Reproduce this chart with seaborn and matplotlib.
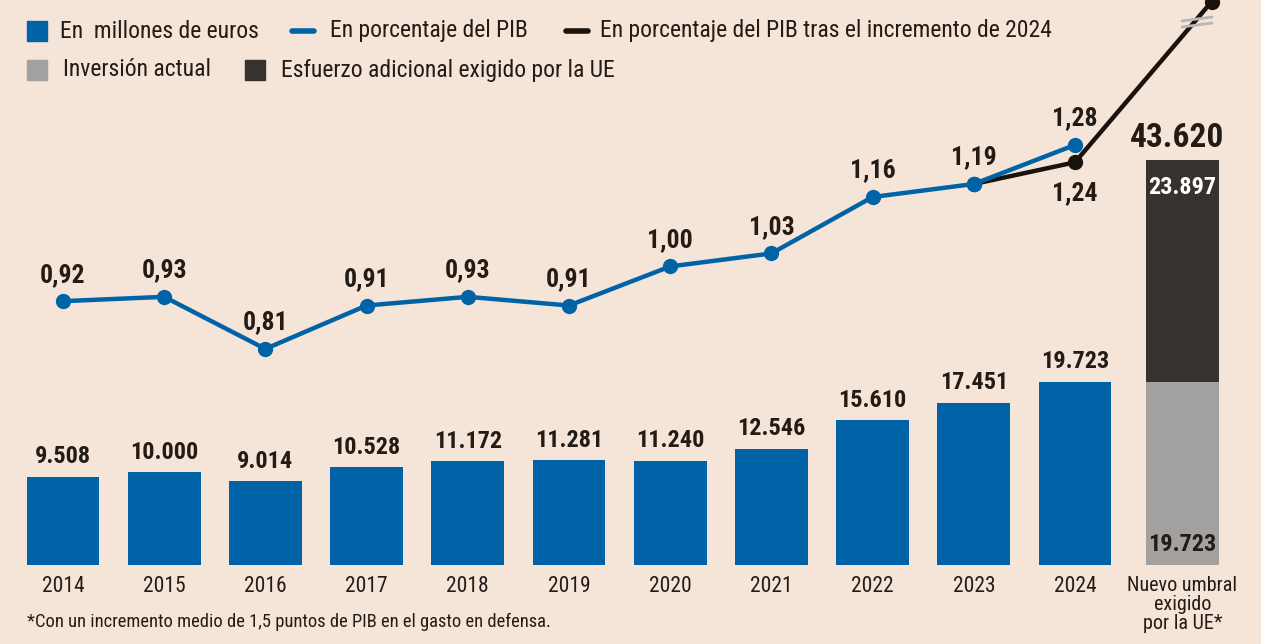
import matplotlib
matplotlib.use("Agg")
import matplotlib.pyplot as plt
import seaborn as sns
from matplotlib.patches import Rectangle
from matplotlib.lines import Line2D

# Data
years = ["2014", "2015", "2016", "2017", "2018", "2019", "2020", "2021", "2022", "2023", "2024"]
millones = [9508, 10000, 9014, 10528, 11172, 11281, 11240, 12546, 15610, 17451, 19723]
pct_pib = [0.92, 0.93, 0.81, 0.91, 0.93, 0.91, 1.00, 1.03, 1.16, 1.19, 1.28]
pct_tras = [1.19, 1.24]          # 2023 -> 2024 tras el incremento
pct_tras_end = 1.61              # punto final (eje cortado)
actual = 19723
esfuerzo = 23897
umbral_total = 43620
umbral_label = "Nuevo umbral\nexigido\npor la UE*"

BG = "#f5e4d8"
BLUE = "#0063a8"
BLACK = "#1a120c"
GRAY = "#a3a19f"
DARK = "#38322e"
TXT = "#231b15"

sns.set_theme(style="white")
plt.rcParams['font.family'] = ['Roboto Condensed', 'DejaVu Sans']

fig = plt.figure(figsize=(12.61, 6.44), dpi=100, facecolor=BG)
ax = fig.add_axes([0, 0, 1, 1])
ax.set_facecolor(BG)

sns.barplot(x=years, y=millones, color=BLUE, width=0.72, saturation=1, linewidth=0, ax=ax)
x_umbral = 11.06
ax.bar(x_umbral, actual, width=0.72, color=GRAY, linewidth=0)
ax.bar(x_umbral, esfuerzo, bottom=actual, width=0.72, color=DARK, linewidth=0)

ax.set_xlim(-0.622, 11.838)
ax.set_ylim(-8513, 60884)
ax.axis("off")

def miles(v):
    return f"{v:,}".replace(",", ".")

# bar labels
for i, v in enumerate(millones):
    ax.annotate(miles(v), (i, v), xytext=(0, 14.5), textcoords="offset points",
                ha="center", va="center", fontsize=17.5, fontweight="bold", color=TXT)
ax.annotate(miles(umbral_total), (x_umbral - 0.05, actual + esfuerzo), xytext=(0, 16),
            textcoords="offset points", ha="center", va="center", fontsize=24, fontweight="bold", color=TXT)
ax.annotate(miles(esfuerzo), (x_umbral, actual + esfuerzo), xytext=(0, -20),
            textcoords="offset points", ha="center", va="center", fontsize=17.5, fontweight="bold", color="white")
ax.annotate(miles(actual), (x_umbral, 0), xytext=(0, 14.5),
            textcoords="offset points", ha="center", va="center", fontsize=17.5, fontweight="bold", color=TXT)

# x labels
for i, y in enumerate(years):
    ax.text(i, 1 - 587 / 644, y, transform=ax.get_xaxis_transform(), ha="center", va="center",
            fontsize=15.5, color=TXT)
ax.text(x_umbral, 1 - 576 / 644, umbral_label, transform=ax.get_xaxis_transform(), ha="center", va="top",
        fontsize=14.5, color=TXT, linespacing=1.0)

# line axis
ax2 = ax.twinx()
ax2.set_position([0, 0, 1, 1])
ax2.set_ylim(0.130, 1.614)
ax2.axis("off")

xs = list(range(len(years)))
sns.lineplot(x=[9, 10, 11.35], y=pct_tras + [pct_tras_end], color=BLACK, linewidth=3.2,
             marker="o", markersize=11, markeredgewidth=0, ax=ax2, zorder=3)
sns.lineplot(x=xs, y=pct_pib, color=BLUE, linewidth=3.2, marker="o", markersize=11,
             markeredgewidth=0, ax=ax2, zorder=4)
ax2.plot([9], [1.19], "o", color=BLUE, markersize=11, markeredgewidth=0, zorder=5)

for i, v in enumerate(pct_pib):
    ax2.annotate(f"{v:.2f}".replace(".", ","), (i, v), xytext=(0, 19), textcoords="offset points",
                 ha="center", va="center", fontsize=18.5, fontweight="bold", color=TXT)
ax2.annotate(f"{pct_tras[1]:.2f}".replace(".", ","), (10, pct_tras[1]), xytext=(0, -22),
             textcoords="offset points", ha="center", va="center", fontsize=18.5, fontweight="bold", color=TXT)

# break marks on black line
for dy in (-3, 3):
    fig.add_artist(Line2D([1182 / 1261, 1212 / 1261], [1 - (24 + dy) / 644, 1 - (20 + dy) / 644],
                          color="#b8b6b4", linewidth=2, transform=fig.transFigure, zorder=10))

# legend (manual)
def sq(x, y, c):
    fig.add_artist(Rectangle((x / 1261, 1 - (y + 10) / 644), 20 / 1261, 20 / 644,
                             color=c, transform=fig.transFigure))

def ln(x, y, c):
    fig.add_artist(Line2D([x / 1261, (x + 22) / 1261], [1 - y / 644, 1 - y / 644],
                          color=c, linewidth=4, solid_capstyle="round", transform=fig.transFigure))

def lbl(x, y, s):
    fig.text(x / 1261, 1 - y / 644, s, ha="left", va="center", fontsize=17, color=TXT)

sq(27, 31, BLUE); lbl(60, 31, "En  millones de euros")
ln(292, 31, BLUE); lbl(330, 31, "En porcentaje del PIB")
ln(566, 31, BLACK); lbl(600, 31, "En porcentaje del PIB tras el incremento de 2024")
sq(27, 70, GRAY); lbl(63, 70, "Inversión actual")
sq(245, 70, DARK); lbl(281, 70, "Esfuerzo adicional exigido por la UE")

# title (cut at top)
fig.text(20 / 1261, 1 - 4 / 644, "EVOLUCIÓN DE LA INVERSIÓN ESPAÑOLA EN DEFENSA", ha="left", va="bottom",
         fontsize=21, fontweight="bold", color="#7d6f66")

fig.text(27 / 1261, 1 - 622 / 644, "*Con un incremento medio de 1,5 puntos de PIB en el gasto en defensa.",
         ha="left", va="center", fontsize=13.3, color=TXT)

fig.savefig("out.png", dpi=100, facecolor=BG)
